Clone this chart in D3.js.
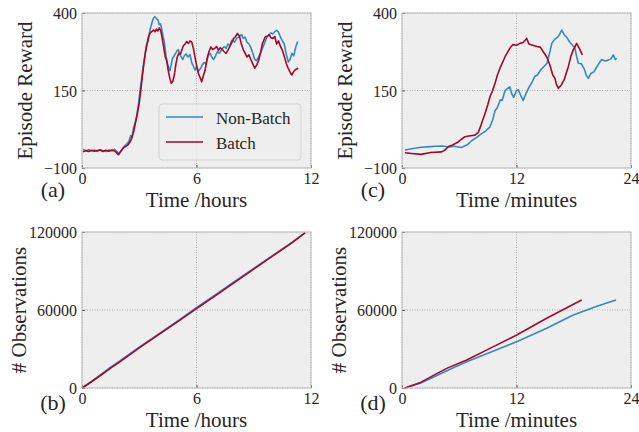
<!DOCTYPE html>
<html>
<head>
<meta charset="utf-8">
<script src="https://cdn.jsdelivr.net/npm/d3@7"></script>
<style>
body{margin:0;background:#ffffff;}
text{font-family:"Liberation Serif","Times New Roman",serif;fill:#262626;}
</style>
</head>
<body>
<svg id="chart" width="639" height="432"></svg>
<script>
//series names and colours (bmh style)
const SERIES_NAMES = ['Non-Batch', 'Batch'];
const SERIES_COLORS = ['#348ABD', '#A60628'];

//panel (a): episode reward vs time in hours
const A_NONBATCH_T = [0.05,0.2,0.35,0.5,0.65,0.8,0.95,1.1,1.25,1.4,1.55,1.7,1.85,1.95,2.05,2.15,2.25,2.35,2.45,2.55,2.62,2.7,2.78,2.87,2.95,3.04,3.12,3.21,3.3,3.39,3.47,3.56,3.65,3.74,3.82,3.9,3.98,4.05,4.12,4.2,4.26,4.33,4.4,4.47,4.54,4.61,4.68,4.75,4.83,4.9,4.98,5.05,5.12,5.2,5.28,5.36,5.45,5.55,5.66,5.75,5.84,5.92,6.0,6.1,6.2,6.3,6.4,6.5,6.6,6.71,6.8,6.9,7.0,7.1,7.2,7.32,7.45,7.55,7.65,7.75,7.85,8.0,8.1,8.2,8.3,8.37,8.45,8.55,8.65,8.75,8.85,8.95,9.05,9.15,9.25,9.35,9.45,9.55,9.68,9.8,9.9,10.0,10.11,10.2,10.3,10.4,10.5,10.6,10.7,10.81,10.9,11.0,11.1,11.2,11.3];
const A_NONBATCH_V = [-40,-44,-41,-45,-42,-46,-41,-44,-47,-42,-45,-40,-48,-55,-46,-35,-28,-22,-15,5,-2,30,45,70,100,150,185,230,265,300,310,345,365,383,388,382,378,362,365,340,322,300,262,240,225,214,235,255,262,270,278,282,268,258,250,262,268,258,266,240,228,216,226,212,220,232,240,236,262,270,258,250,262,276,270,282,292,286,300,295,312,306,318,322,328,330,318,322,305,300,288,270,250,246,258,270,285,300,322,328,336,332,340,344,338,322,310,300,268,242,250,270,262,290,308];
const A_BATCH_T = [0.05,0.2,0.35,0.5,0.65,0.8,0.95,1.1,1.25,1.4,1.55,1.7,1.8,1.9,2.0,2.1,2.2,2.3,2.4,2.5,2.6,2.7,2.8,2.9,3.0,3.08,3.16,3.25,3.33,3.41,3.48,3.56,3.65,3.74,3.82,3.9,3.98,4.05,4.12,4.2,4.28,4.36,4.44,4.52,4.6,4.68,4.76,4.84,4.92,5.0,5.08,5.16,5.24,5.32,5.4,5.49,5.58,5.66,5.75,5.84,5.92,6.0,6.1,6.2,6.27,6.35,6.45,6.55,6.65,6.75,6.85,6.95,7.05,7.15,7.25,7.35,7.45,7.55,7.65,7.75,7.85,7.95,8.05,8.15,8.25,8.35,8.45,8.55,8.65,8.75,8.85,8.95,9.05,9.15,9.25,9.35,9.45,9.59,9.7,9.8,9.9,10.0,10.1,10.2,10.3,10.4,10.5,10.6,10.7,10.8,10.9,10.99,11.1,11.2,11.33];
const A_BATCH_V = [-48,-44,-47,-43,-46,-44,-42,-47,-43,-46,-42,-45,-50,-57,-48,-40,-34,-30,-26,-18,-5,15,45,75,110,150,195,240,275,300,322,335,340,345,340,348,342,352,345,320,290,260,245,215,190,173,180,200,235,260,270,268,282,295,300,308,302,310,306,285,258,232,205,190,178,195,215,250,275,290,282,286,292,280,288,282,275,270,280,292,305,318,325,334,326,300,282,270,258,265,250,236,222,232,246,270,300,322,325,330,320,318,324,300,310,292,280,260,238,222,210,200,212,218,222];

//panel (c): episode reward vs time in minutes
const C_NONBATCH_T = [0.3,1.0,2.0,3.0,3.5,4.2,5.0,5.5,6.2,6.8,7.3,7.8,8.3,8.8,9.2,9.5,9.75,10.0,10.3,10.5,10.8,11.0,11.3,11.5,11.7,12.0,12.2,12.5,12.7,13.0,13.3,13.6,13.9,14.2,14.5,14.8,15.2,15.5,15.7,16.0,16.3,16.5,16.74,17.0,17.3,17.6,17.9,18.1,18.3,18.48,18.8,19.1,19.3,19.53,19.8,20.1,20.4,20.7,20.93,21.3,21.6,21.9,22.15,22.35,22.5];
const C_NONBATCH_V = [-42,-38,-33,-31,-30,-29,-32,-30,-34,-26,-12,-2,10,20,32,55,85,95,120,118,150,155,162,140,128,150,152,130,118,140,160,175,195,200,215,225,238,275,302,315,322,330,345,330,320,305,295,290,260,238,236,220,200,189,205,210,225,240,250,245,248,252,265,250,254];
const C_BATCH_T = [0.3,1.0,2.0,3.0,4.16,4.5,4.86,5.3,5.8,6.2,6.6,7.0,7.65,8.0,8.3,8.7,9.0,9.22,9.5,9.75,10.0,10.27,10.5,10.8,11.0,11.3,11.6,12.0,12.37,12.7,13.07,13.3,13.7,14.13,14.5,14.8,15.16,15.5,15.8,16.03,16.2,16.39,16.7,17.0,17.2,17.43,17.7,17.95,18.3,18.6,18.9];
const C_BATCH_V = [-51,-53,-56,-50,-48,-42,-31,-26,-18,-8,1,3,6,15,40,76,105,130,150,173,200,222,238,259,270,286,298,296,302,305,318,300,296,292,290,275,259,232,200,189,168,157,168,185,205,227,260,281,302,285,265];

//panel (b): observations vs time in hours
const B_NONBATCH_T = [0,0.5,1,1.5,2,3,4,5,6,7,8,9,10,11,11.7];
const B_NONBATCH_V = [0,5000,10500,16000,21000,31500,41500,51500,61800,71800,82000,92000,102000,112000,119500];
const B_BATCH_T = [0,0.5,1,1.5,2,3,4,5,6,7,8,9,10,11,11.7];
const B_BATCH_V = [0,4800,10000,15300,20300,30800,40800,50800,61000,71000,81300,91500,101600,111600,119500];

//panel (d): observations vs time in minutes
const D_NONBATCH_T = [0.3,1.9,3.5,4.86,6.78,9.4,12.02,15.16,17.95,20.5,22.43];
const D_NONBATCH_V = [0,3600,9000,13800,20200,27900,35600,45900,56200,63000,67700];
const D_BATCH_T = [0.3,2,3.5,4.68,6.78,9.22,12.02,15.16,18.83];
const D_BATCH_V = [0,4500,10500,15100,21500,30500,40800,53600,67700];

//tick values
const HOUR_TICKS = [0, 6, 12];
const MINUTE_TICKS = [0, 12, 24];
const REWARD_TICKS = [-100, 150, 400];
const OBS_TICKS = [0, 60000, 120000];

//layout constants
const CONSTANTS = {
    FACE: '#eeeeee',
    EDGE: '#bcbcbc',
    GRID: '#b2b2b2',
    PLOT_W: 229,
    LINE_W: 1.6,
    TICK_FONT: 16,
    LABEL_FONT: 21,
    TAG_FONT: 22
};

function zip(t, v){
    return t.map((d, i) => ({t: d, v: v[i]}));
}

const PANELS = [
    {left: 82, top: 13, h: 155, xDomain: [0, 12], xTicks: HOUR_TICKS, yDomain: [-100, 400], yTicks: REWARD_TICKS,
     xLabel: 'Time /hours', yLabel: 'Episode Reward', tag: '(a)', tagY: 197, yLabelX: 32, legend: true,
     series: [zip(A_NONBATCH_T, A_NONBATCH_V), zip(A_BATCH_T, A_BATCH_V)]},
    {left: 402, top: 13, h: 155, xDomain: [0, 24], xTicks: MINUTE_TICKS, yDomain: [-100, 400], yTicks: REWARD_TICKS,
     xLabel: 'Time /minutes', yLabel: 'Episode Reward', tag: '(c)', tagY: 197, yLabelX: 352, legend: false,
     series: [zip(C_NONBATCH_T, C_NONBATCH_V), zip(C_BATCH_T, C_BATCH_V)]},
    {left: 82, top: 232, h: 156, xDomain: [0, 12], xTicks: HOUR_TICKS, yDomain: [0, 120000], yTicks: OBS_TICKS,
     xLabel: 'Time /hours', yLabel: '# Observations', tag: '(b)', tagY: 410, yLabelX: 26, legend: false,
     series: [zip(B_NONBATCH_T, B_NONBATCH_V), zip(B_BATCH_T, B_BATCH_V)]},
    {left: 402, top: 232, h: 156, xDomain: [0, 24], xTicks: MINUTE_TICKS, yDomain: [0, 120000], yTicks: OBS_TICKS,
     xLabel: 'Time /minutes', yLabel: '# Observations', tag: '(d)', tagY: 410, yLabelX: 346, legend: false,
     series: [zip(D_NONBATCH_T, D_NONBATCH_V), zip(D_BATCH_T, D_BATCH_V)]}
];

const svg = d3.select('#chart');

//draws one panel
function buildPanel(p){
    const w = CONSTANTS.PLOT_W;
    const g = svg.append('g').attr('transform', 'translate(' + p.left + ',' + p.top + ')');

    const x = d3.scaleLinear().domain(p.xDomain).range([0, w]);
    const y = d3.scaleLinear().domain(p.yDomain).range([p.h, 0]);

    g.append('rect').attr('width', w).attr('height', p.h).attr('fill', CONSTANTS.FACE);

    //dotted grid
    g.append('g').selectAll('line').data(p.xTicks).enter().append('line')
        .attr('x1', d => x(d)).attr('x2', d => x(d)).attr('y1', 0).attr('y2', p.h)
        .attr('stroke', CONSTANTS.GRID).attr('stroke-width', 1).attr('stroke-dasharray', '1,1.5');
    g.append('g').selectAll('line').data(p.yTicks).enter().append('line')
        .attr('x1', 0).attr('x2', w).attr('y1', d => y(d)).attr('y2', d => y(d))
        .attr('stroke', CONSTANTS.GRID).attr('stroke-width', 1).attr('stroke-dasharray', '1,1.5');

    //axes, ticks pointing inward
    const xAxis = d3.axisBottom(x).tickValues(p.xTicks).tickSizeInner(-3).tickSizeOuter(0).tickPadding(5).tickFormat(d3.format('d'));
    const yAxis = d3.axisLeft(y).tickValues(p.yTicks).tickSizeInner(-3).tickSizeOuter(0).tickPadding(5)
        .tickFormat(d => d3.format('d')(d).replace('-', '\u2212'));

    const gx = g.append('g').attr('transform', 'translate(0,' + p.h + ')').call(xAxis);
    const gy = g.append('g').call(yAxis);
    [gx, gy].forEach(a => {
        a.attr('font-family', null);
        a.select('.domain').remove();
        a.selectAll('line').attr('stroke', '#555555');
        a.selectAll('text').style('font-size', CONSTANTS.TICK_FONT + 'px').attr('fill', '#262626');
    });
    gx.selectAll('text').attr('dy', '0.71em');
    gy.selectAll('text').attr('dy', '0.35em');

    //lines
    const line = d3.line().x(d => x(d.t)).y(d => y(d.v));
    p.series.forEach((s, i) => {
        g.append('path').datum(s).attr('d', line).attr('fill', 'none')
            .attr('stroke', SERIES_COLORS[i]).attr('stroke-width', CONSTANTS.LINE_W)
            .attr('stroke-linejoin', 'round');
    });

    //border
    g.append('rect').attr('width', w).attr('height', p.h).attr('fill', 'none')
        .attr('stroke', CONSTANTS.EDGE).attr('stroke-width', 1);

    //labels
    svg.append('text').attr('x', p.left + w / 2).attr('y', p.top + p.h + 39)
        .attr('text-anchor', 'middle').style('font-size', CONSTANTS.LABEL_FONT + 'px').text(p.xLabel);
    svg.append('text').attr('transform', 'translate(' + p.yLabelX + ',' + (p.top + p.h / 2) + ') rotate(-90)')
        .attr('text-anchor', 'middle').style('font-size', CONSTANTS.LABEL_FONT + 'px').text(p.yLabel);
    svg.append('text').attr('x', p.left - 29).attr('y', p.tagY)
        .attr('text-anchor', 'middle').style('font-size', CONSTANTS.TAG_FONT + 'px').text(p.tag);

    if(p.legend){
        buildLegend(g);
    }
}

//legend inside panel (a)
function buildLegend(g){
    const lg = g.append('g').attr('transform', 'translate(77,91)');
    lg.append('rect').attr('width', 142).attr('height', 56).attr('rx', 3)
        .attr('fill', '#eeeeee').attr('fill-opacity', 0.8).attr('stroke', '#d4d4d4');
    SERIES_NAMES.forEach((name, i) => {
        lg.append('line').attr('x1', 7).attr('x2', 44).attr('y1', 13 + i * 25).attr('y2', 13 + i * 25)
            .attr('stroke', SERIES_COLORS[i]).attr('stroke-width', CONSTANTS.LINE_W);
        lg.append('text').attr('x', 57).attr('y', 20 + i * 25).style('font-size', '17px').text(name);
    });
}

PANELS.forEach(buildPanel);
</script>
</body>
</html>
